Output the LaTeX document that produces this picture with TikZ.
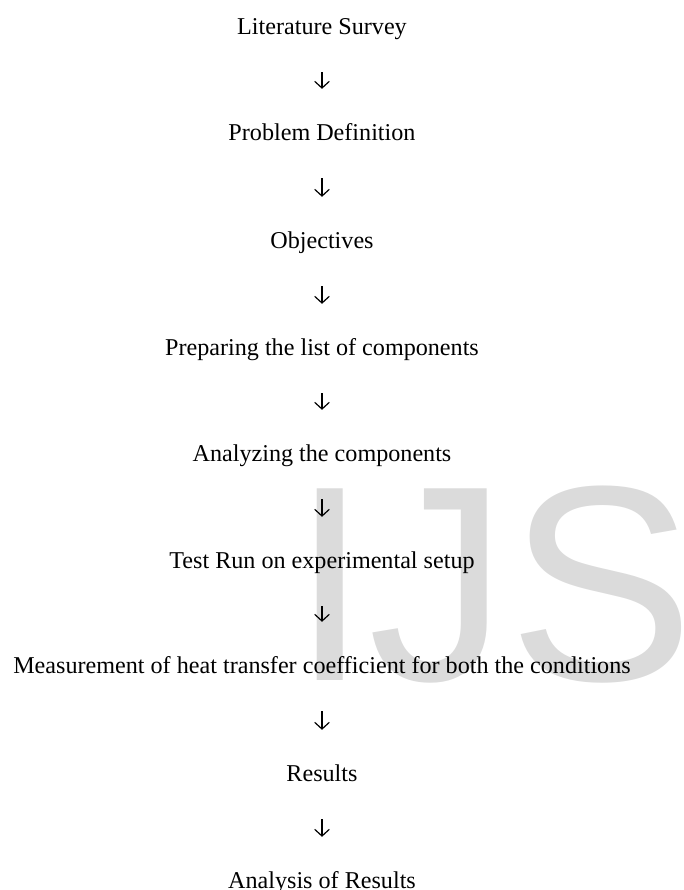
\documentclass[tikz,border=0pt]{standalone}
\usepackage{fontspec}
\setmainfont{Liberation Serif}
\newfontfamily\markfont{Liberation Sans}
\usetikzlibrary{arrows.meta}

\begin{document}
\begin{tikzpicture}[x=0.75pt,y=-0.75pt]

        \useasboundingbox (0,0) rectangle (683,890);

        % watermark
        \node[anchor=base west, inner sep=0, text=black!14,
              font=\markfont\fontsize{209}{209}\selectfont] (mark) at (291,680) {IJS};

        \begin{scope}[every node/.style={inner sep=0, text height=15pt, text depth=2pt,
                      font=\fontsize{18.1}{21}\selectfont}]
          \node (1) at (322,26)  {Literature Survey};
          \node (2) at (322,132) {Problem Definition};
          \node (3) at (322,240) {Objectives};
          \node (4) at (322,347) {Preparing the list of components};
          \node (5) at (322,453) {Analyzing the components};
          \node (6) at (322,560) {Test Run on experimental setup};
          \node (7) at (322,665) {Measurement of heat transfer coefficient for both the conditions};
          \node (8) at (322,773) {Results};
          \node (9) at (322,880) {Analysis of Results};
        \end{scope}

        \begin{scope}[every edge/.style={draw, line width=0.9pt,
                      -{Straight Barb[length=5pt,width=11pt]},
                      shorten <=26pt, shorten >=23.7pt}]
          \path (1) edge (2);
          \path (2) edge (3);
          \path (3) edge (4);
          \path (4) edge (5);
          \path (5) edge (6);
          \path (6) edge (7);
          \path (7) edge (8);
          \path (8) edge (9);
        \end{scope}

      \end{tikzpicture}
\end{document}
